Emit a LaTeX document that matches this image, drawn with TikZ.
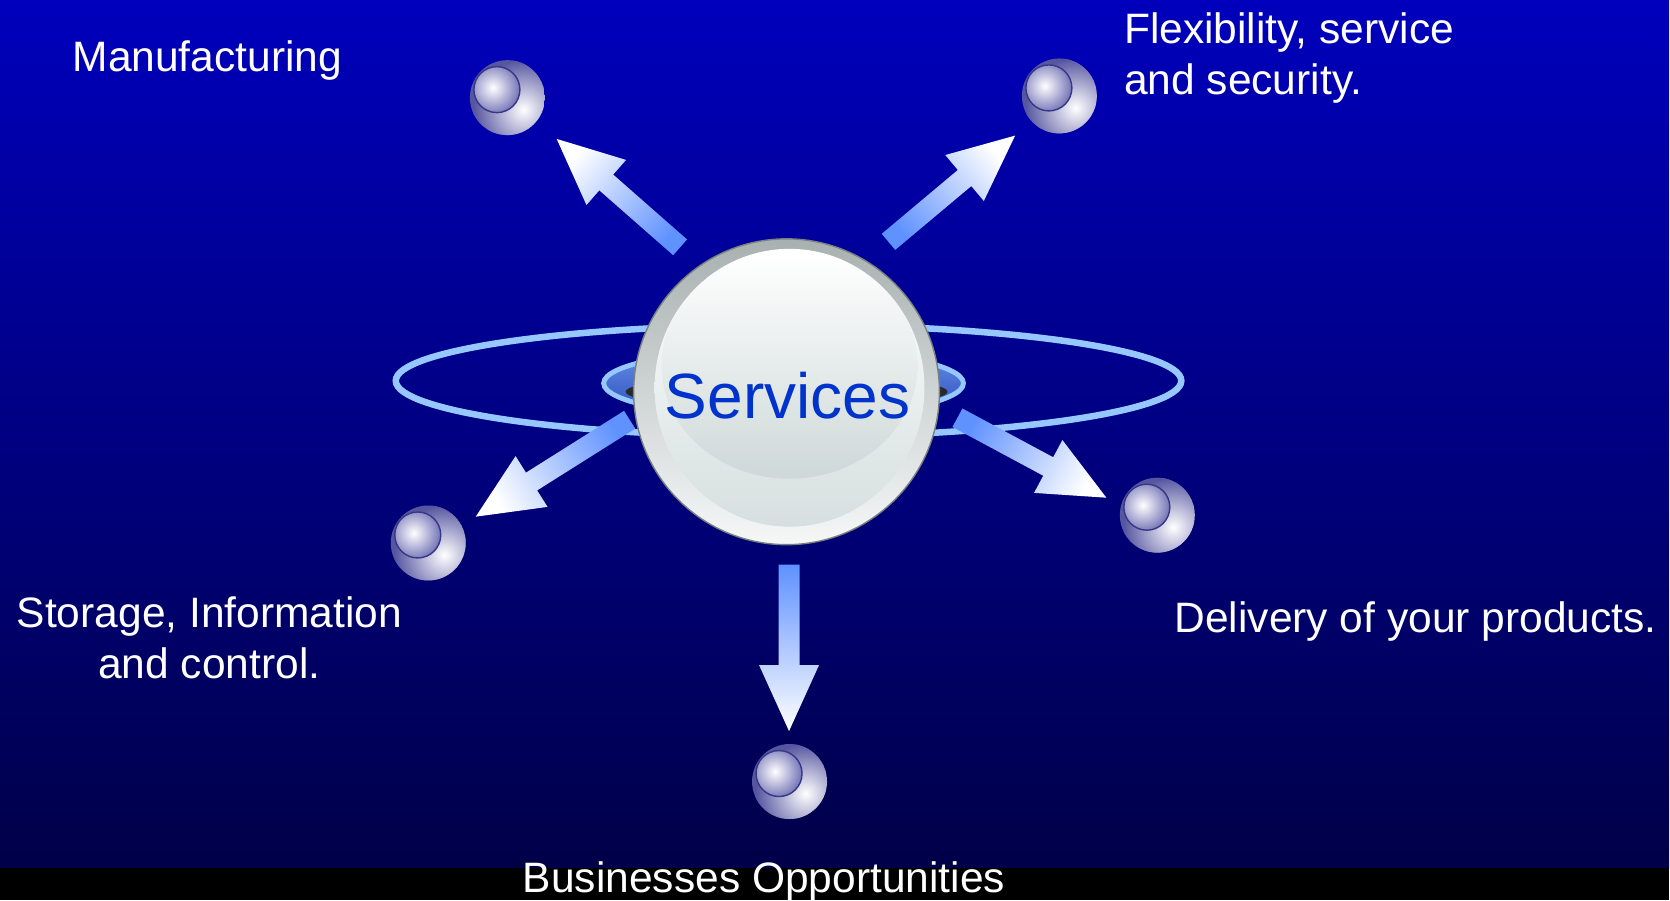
\documentclass[tikz,border=0pt]{standalone}
\usepackage{fontspec}
\setmainfont{Liberation Sans}
\usetikzlibrary{calc}
\definecolor{bgtop}{RGB}{0,0,188}
\definecolor{bgbot}{RGB}{0,0,72}
\definecolor{ringblue}{RGB}{150,200,255}
\definecolor{lenstop}{RGB}{105,145,235}
\definecolor{lensbot}{RGB}{40,75,185}
\definecolor{arrowblue}{RGB}{95,145,255}
\definecolor{svcblue}{RGB}{0,51,204}
\definecolor{rimtop}{RGB}{168,176,176}
\definecolor{rimbot}{RGB}{246,248,248}
\definecolor{rimline}{RGB}{120,128,128}
\definecolor{facebot}{RGB}{214,223,223}
\definecolor{hlbot}{RGB}{206,216,216}
\definecolor{shadowgray}{RGB}{40,40,40}
\definecolor{sphC}{RGB}{85,85,160}
\definecolor{inB}{RGB}{100,100,175}
\definecolor{inline}{RGB}{55,55,135}
\tikzset{
  lbl/.style={text=white, inner sep=0pt, font=\fontsize{12.1}{14.7}\selectfont},
  arrowfill/.style={top color=white, bottom color=arrowblue},
  orbitring/.style={draw=ringblue, line width=1.85pt},
  lensring/.style={draw=ringblue, line width=1.4pt, top color=lenstop, bottom color=lensbot},
}
\newcommand{\fatarrow}[3]{%
  \coordinate (#1-h) at ($(#2)!0.66cm!(#1)$);
  \path[arrowfill, shading angle=#3]
    ($(#1)!0.105cm!90:(#2)$) -- ($(#1-h)!0.105cm!90:(#2)$) -- ($(#1-h)!0.30cm!90:(#2)$) -- (#2)
    -- ($(#1-h)!0.30cm!-90:(#2)$) -- ($(#1-h)!0.105cm!-90:(#2)$) -- ($(#1)!0.105cm!-90:(#2)$) -- cycle;
}
\newcommand{\orb}[3]{%
  \coordinate (#1) at (#2,#3);
  \coordinate (#1-i) at ($(#1)+(-10.5,-8)$);
  \begin{scope}
    \clip (#1) circle [radius=37.5];
    \fill[sphC] (#1) circle [radius=37.5];
    \shade[inner color=white, outer color=sphC] ($(#1)+(16,12)$) circle [radius=50];
  \end{scope}
  \begin{scope}
    \clip (#1-i) circle [radius=23];
    \fill[inB] (#1-i) circle [radius=23];
    \shade[inner color=white, outer color=inB] ($(#1-i)+(-4,-2)$) circle [radius=30];
  \end{scope}
  \draw[inline, line width=0.4pt] (#1-i) circle [radius=23];
}
\begin{document}
\begin{tikzpicture}
\useasboundingbox (0,0) rectangle (16.70,9.01);
\begin{scope}[shift={(0cm,9.01cm)}, x=0.01cm, y=-0.01cm]
  % background
  \shade[top color=bgtop, bottom color=bgbot] (0,0) rectangle (1670,869);
  \fill[black] (0,869) rectangle (1670,901);
  % orbit ring and lens
  \coordinate (ctr) at (789,381);
  \draw[orbitring] (ctr) ellipse [x radius=393, y radius=56];
  \coordinate (lensc) at (784,383.5);
  \path[lensring] (lensc) ellipse [x radius=180, y radius=34.5];
  % arrows
  \coordinate (t1) at (680.5,247.5); \coordinate (p1) at (557,139);
  \coordinate (t2) at (889,242);     \coordinate (p2) at (1015.7,135.7);
  \coordinate (t3) at (630,420);     \coordinate (p3) at (476,517);
  \coordinate (t4) at (958,418);     \coordinate (p4) at (1107,498);
  \coordinate (t5) at (789.5,565);   \coordinate (p5) at (789.5,731.5);
  \fatarrow{t1}{p1}{48.7}
  \fatarrow{t2}{p2}{-50}
  \fatarrow{t3}{p3}{122}
  \fatarrow{t4}{p4}{-118.6}
  \fatarrow{t5}{p5}{-180}
  % central sphere
  \coordinate (sc) at (787,392);
  \fill[shadowgray] (sc) ellipse [x radius=161, y radius=17];
  \shadedraw[top color=rimtop, bottom color=rimbot, draw=rimline, line width=0.4pt] (sc) circle [radius=153];
  \shade[top color=white, bottom color=facebot] (790,388) ellipse [x radius=135, y radius=139];
  \shade[top color=white, bottom color=hlbot] (790,366) ellipse [x radius=128, y radius=113];
  \node[text=svcblue, inner sep=0pt, anchor=base, font=\fontsize{18.2}{22}\selectfont] (services) at (788,419) {Services};
  % small orbs
  \orb{o1}{507.7}{97.7}
  \orb{o2}{1060}{96}
  \orb{o3}{428.5}{543.3}
  \orb{o4}{1158}{515.5}
  \orb{o5}{790}{782}
  % labels
  \node[lbl, anchor=base] (manu) at (207.5,72) {Manufacturing};
  \node[lbl, anchor=base west, align=left] (flex) at (1124,95) {Flexibility, service\\and security.};
  \node[lbl, anchor=base, align=center] (stor) at (209.5,679.3) {Storage, Information\\and control.};
  \node[lbl, anchor=base west] (deliv) at (1174.5,633) {Delivery of your products.};
  \node[lbl, anchor=base] (biz) at (764.5,893) {Businesses Opportunities};
\end{scope}
\end{tikzpicture}
\end{document}
